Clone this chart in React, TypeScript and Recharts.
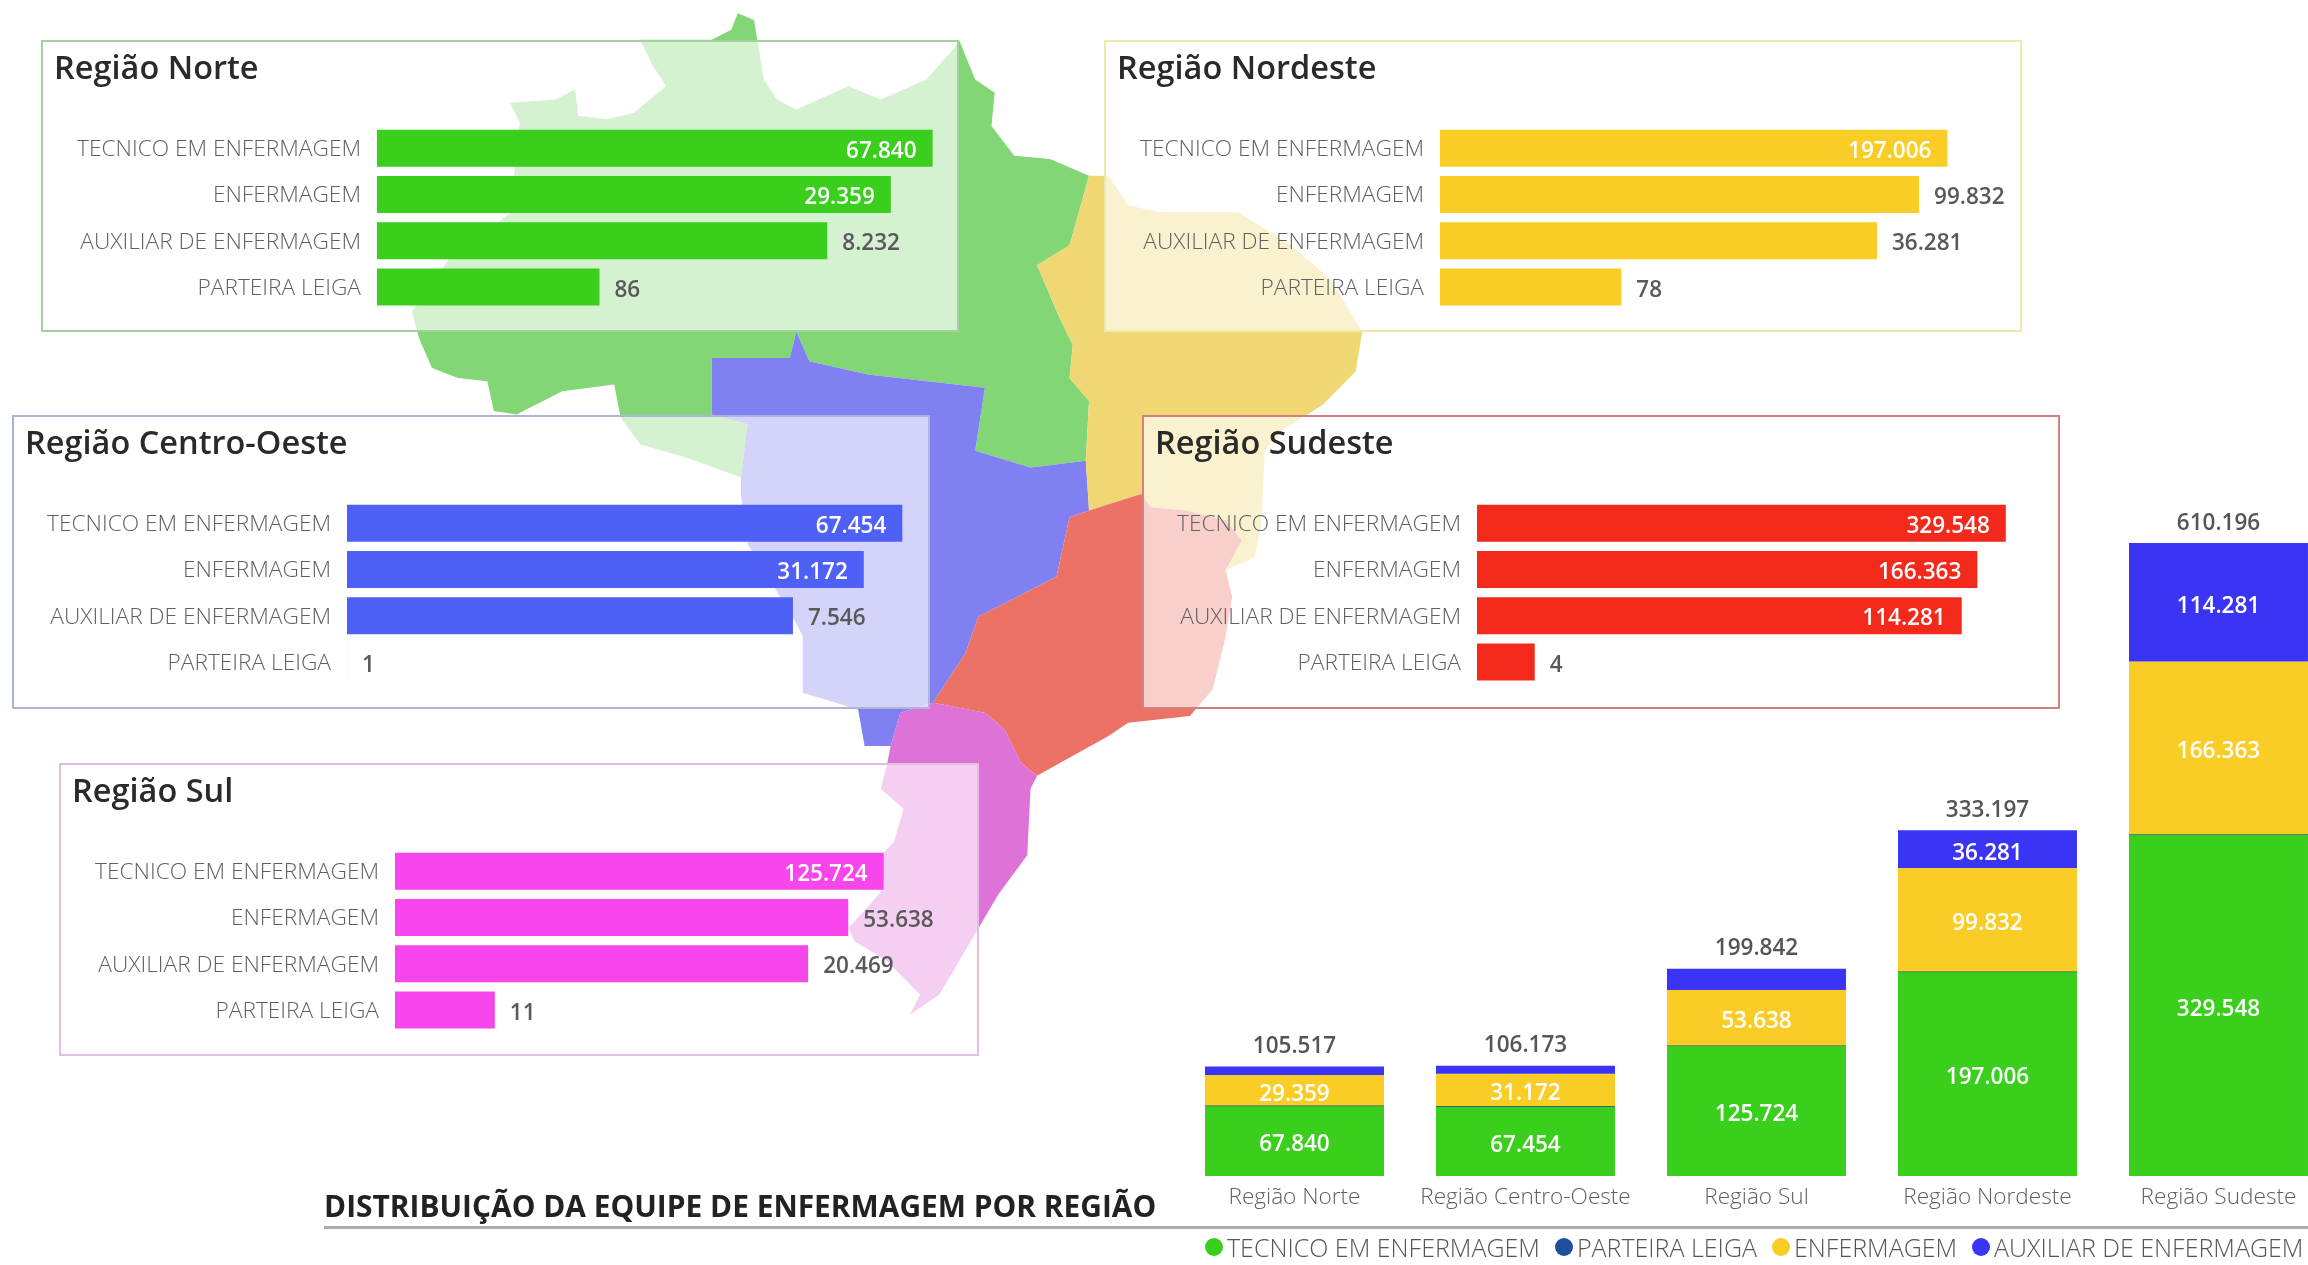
import React from "react";
import { BarChart, Bar, XAxis, YAxis, LabelList, Legend } from "recharts";

const FONT = "'Open Sans', 'Noto Sans', sans-serif";

const roleLabels = ["TECNICO EM ENFERMAGEM", "ENFERMAGEM", "AUXILIAR DE ENFERMAGEM", "PARTEIRA LEIGA"];
const norteValues = [67840, 29359, 8232, 86];
const nordesteValues = [197006, 99832, 36281, 78];
const centroOesteValues = [67454, 31172, 7546, 1];
const sudesteValues = [329548, 166363, 114281, 4];
const sulValues = [125724, 53638, 20469, 11];

const stackRegions = ["Região Norte", "Região Centro-Oeste", "Região Sul", "Região Nordeste", "Região Sudeste"];
const tecnicoStack = [67840, 67454, 125724, 197006, 329548];
const parteiraStack = [86, 1, 11, 78, 4];
const enfermagemStack = [29359, 31172, 53638, 99832, 166363];
const auxiliarStack = [8232, 7546, 20469, 36281, 114281];
const totals = [105517, 106173, 199842, 333197, 610196];
const legendOrder = ["TECNICO EM ENFERMAGEM", "PARTEIRA LEIGA", "ENFERMAGEM", "AUXILIAR DE ENFERMAGEM"];

const stackData = stackRegions.map((region, i) => ({
  region,
  tecnico: tecnicoStack[i],
  parteira: parteiraStack[i],
  enfermagem: enfermagemStack[i],
  auxiliar: auxiliarStack[i],
  total: totals[i],
}));

const fmt = (v: number) => String(v).replace(/\B(?=(\d{3})+(?!\d))/g, ".");

const PLOT_W = 575;
const PANEL_W = 918;
const PANEL_H = 292;

function PanelLabel(props: any) {
  const { x, y, width, height, value } = props;
  const s = fmt(Number(value));
  const inside = width + 15 + s.length * 11.6 > PLOT_W;
  return (
    <text
      x={inside ? x + width - 16 : x + width + 15}
      y={y + height / 2 + 1}
      textAnchor={inside ? "end" : "start"}
      dominantBaseline="central"
      fontFamily={FONT}
      fontSize={22.5}
      fontWeight={600}
      fill={inside ? "#ffffff" : "#595959"}
    >
      {s}
    </text>
  );
}

function Panel({ title, values, color, border, left, top, width = PANEL_W, height = PANEL_H, axisW = 336, domainMax }: any) {
  const data = roleLabels.map((role, i) => ({ role, value: values[i] }));
  return (
    <div
      style={{
        position: "absolute",
        left,
        top,
        width,
        height,
        boxSizing: "border-box",
        border: `2px solid ${border}`,
        background: "rgba(255,255,255,0.66)",
      }}
    >
      <div
        style={{
          position: "absolute",
          left: 11,
          top: 5,
          fontFamily: FONT,
          fontSize: 32.5,
          lineHeight: "40px",
          fontWeight: 600,
          color: "#2a2a2a",
          whiteSpace: "nowrap",
        }}
      >
        {title}
      </div>
      <div style={{ position: "absolute", left: -2, top: -2 }}>
        <BarChart
          width={width}
          height={PANEL_H}
          data={data}
          layout="vertical"
          barCategoryGap="10.5%"
          margin={{ top: 85, bottom: 22, left: 0, right: width - axisW - PLOT_W }}
        >
          <XAxis type="number" scale="log" domain={[0.999, domainMax]} hide allowDataOverflow />
          <YAxis
            type="category"
            dataKey="role"
            width={axisW}
            interval={0}
            axisLine={false}
            tickLine={false}
            tickSize={0}
            tickMargin={16}
            tick={{ fontFamily: FONT, fontSize: 22.7, fontWeight: 300, fill: "#5f5f5f" }}
          />
          <Bar dataKey="value" fill={color} isAnimationActive={false}>
            <LabelList dataKey="value" content={PanelLabel} />
          </Bar>
        </BarChart>
      </div>
    </div>
  );
}

function StackLabel(props: any) {
  const { x, y, width, height, value } = props;
  if (height < 28) return null;
  return (
    <text
      x={x + width / 2}
      y={y + height / 2 + 2}
      textAnchor="middle"
      dominantBaseline="central"
      fontFamily={FONT}
      fontSize={22.5}
      fontWeight={600}
      fill="#ffffff"
    >
      {fmt(Number(value))}
    </text>
  );
}

function TotalLabel(props: any) {
  const { x, y, width, value } = props;
  return (
    <text
      x={x + width / 2}
      y={y - 22}
      textAnchor="middle"
      dominantBaseline="central"
      fontFamily={FONT}
      fontSize={22.5}
      fontWeight={600}
      fill="#555555"
    >
      {fmt(Number(value))}
    </text>
  );
}

function LegendContent({ payload }: any) {
  const items = legendOrder.map((name) => (payload || []).find((p: any) => p.value === name)).filter(Boolean);
  return (
    <div style={{ display: "flex", alignItems: "center", height: 20, fontFamily: FONT, fontSize: 25, lineHeight: "20px", fontWeight: 300, color: "#555", whiteSpace: "nowrap" }}>
      {items.map((p: any) => (
        <div key={p.value} style={{ display: "flex", alignItems: "center", marginRight: 15 }}>
          <span style={{ width: 18, height: 18, borderRadius: "50%", background: p.color, marginRight: 4, display: "inline-block" }} />
          <span>{p.value}</span>
        </div>
      ))}
    </div>
  );
}

// Decorative map of Brazil behind the panels, traced by eye
const mapNorte = "M400,60 L510,60 L540,45 L550,20 L575,30 L580,60 L590,120 L610,150 L640,165 L720,130 L770,150 L840,120 L885,70 L890,60 L915,120 L945,140 L940,190 L975,235 L1030,240 L1090,265 L1060,370 L1010,400 L1045,480 L1065,520 L1060,570 L1090,605 L1085,695 L1000,705 L915,680 L930,585 L750,565 L660,545 L640,500 L630,540 L510,540 L510,625 L565,640 L555,720 L470,690 L400,670 L370,630 L360,580 L280,590 L210,625 L175,620 L165,575 L120,570 L80,555 L60,510 L49,470 L106,391 L201,321 L207,256 L215,185 L200,155 L270,150 L300,135 L305,175 L350,180 L390,170 L440,130 L420,100 Z";
const mapCentroOeste = "M510,540 L630,540 L640,500 L660,545 L750,565 L930,585 L915,680 L1000,705 L1085,695 L1090,770 L1060,780 L1040,870 L920,930 L900,985 L850,1060 L800,1075 L785,1125 L745,1125 L735,1070 L650,1045 L650,960 L640,940 L565,820 L555,745 L555,720 L565,640 L510,625 Z";
const mapNordeste = "M1090,265 L1120,265 L1150,310 L1200,320 L1320,320 L1400,370 L1460,420 L1510,500 L1500,560 L1450,610 L1385,650 L1360,680 L1355,790 L1345,840 L1300,860 L1325,815 L1300,785 L1240,770 L1185,765 L1170,745 L1090,770 L1085,695 L1090,605 L1060,570 L1065,520 L1045,480 L1010,400 L1060,370 Z";
const mapSudeste = "M1090,770 L1170,745 L1185,765 L1240,770 L1300,785 L1325,815 L1300,860 L1310,900 L1300,960 L1280,1040 L1245,1080 L1150,1090 L1120,1110 L1010,1170 L985,1150 L960,1100 L930,1075 L850,1060 L900,985 L920,930 L1040,870 L1060,780 Z";
const mapSul = "M800,1075 L850,1060 L930,1075 L960,1100 L985,1150 L1010,1170 L1000,1190 L995,1290 L950,1350 L920,1400 L860,1500 L815,1530 L830,1500 L780,1450 L730,1420 L720,1400 L775,1340 L770,1290 L790,1270 L805,1220 L770,1190 L780,1150 L785,1125 Z";

function BrazilMap() {
  return (
    <svg width={2308} height={1265} style={{ position: "absolute", left: 0, top: 0 }}>
      <g transform="translate(380,0) scale(0.6505,0.663)">
        <path d={mapNorte} fill="#82d676" />
        <path d={mapCentroOeste} fill="#8080f2" />
        <path d={mapNordeste} fill="#efd873" />
        <path d={mapSudeste} fill="#ec7268" />
        <path d={mapSul} fill="#de72d6" />
      </g>
    </svg>
  );
}

export default function App() {
  return (
    <div
      style={{
        position: "absolute",
        left: 0,
        top: 0,
        width: 2308,
        height: 1265,
        overflow: "hidden",
        background: "#ffffff",
      }}
    >
      <div style={{ position: "absolute", inset: 0, filter: "blur(0.6px)" }}>
        <BrazilMap />
        <Panel title="Região Norte" values={norteValues} color="#39cf1c" border="#a3d2a0" left={41} top={40} domainMax={100000} />
        <Panel title="Região Nordeste" values={nordesteValues} color="#f9cd25" border="#f0e9ac" left={1104} top={40} domainMax={1000000} />
        <Panel title="Região Centro-Oeste" values={centroOesteValues} color="#4f60f6" border="#aeb4d6" left={12} top={415} height={294} axisW={335} domainMax={100000} />
        <Panel title="Região Sudeste" values={sudesteValues} color="#f2291b" border="#d57f7f" left={1142} top={415} height={294} axisW={335} domainMax={1000000} />
        <Panel title="Região Sul" values={sulValues} color="#f746ec" border="#e2bee2" left={59} top={763} height={293} domainMax={1000000} width={920} />

        <div
          style={{
            position: "absolute",
            left: 324,
            top: 1186,
            fontFamily: FONT,
            fontSize: 29.9,
            lineHeight: "40px",
            fontWeight: 700,
            color: "#222",
            whiteSpace: "nowrap",
          }}
        >
          DISTRIBUIÇÃO DA EQUIPE DE ENFERMAGEM POR REGIÃO
        </div>
        <div style={{ position: "absolute", left: 324, top: 1226, width: 1984, height: 3, background: "#adadad" }} />

        <div style={{ position: "absolute", left: 1179, top: 480 }}>
          <BarChart
            width={1155}
            height={785}
            data={stackData}
            barCategoryGap="11.25%"
            margin={{ top: 63, bottom: 19, left: 0, right: 0 }}
          >
            <XAxis
              dataKey="region"
              height={50}
              interval={0}
              axisLine={false}
              tickLine={false}
              tickSize={0}
              tickMargin={12}
              tick={{ fontFamily: FONT, fontSize: 22.6, fontWeight: 300, fill: "#5f5f5f" }}
            />
            <YAxis hide domain={[0, 610196]} allowDataOverflow />
            <Legend
              verticalAlign="bottom"
              height={40}
              content={LegendContent}
              wrapperStyle={{ left: 26, bottom: 8, width: 1150, height: 20 }}
            />
            <Bar name="TECNICO EM ENFERMAGEM" dataKey="tecnico" stackId="a" fill="#39cf1c" isAnimationActive={false}>
              <LabelList dataKey="tecnico" content={StackLabel} />
            </Bar>
            <Bar name="PARTEIRA LEIGA" dataKey="parteira" stackId="a" fill="#1f4e9c" stroke="#1f4e9c" isAnimationActive={false} />
            <Bar name="ENFERMAGEM" dataKey="enfermagem" stackId="a" fill="#f9cd25" isAnimationActive={false}>
              <LabelList dataKey="enfermagem" content={StackLabel} />
            </Bar>
            <Bar name="AUXILIAR DE ENFERMAGEM" dataKey="auxiliar" stackId="a" fill="#3a35f5" isAnimationActive={false}>
              <LabelList dataKey="auxiliar" content={StackLabel} />
              <LabelList dataKey="total" content={TotalLabel} />
            </Bar>
          </BarChart>
        </div>
      </div>
    </div>
  );
}
